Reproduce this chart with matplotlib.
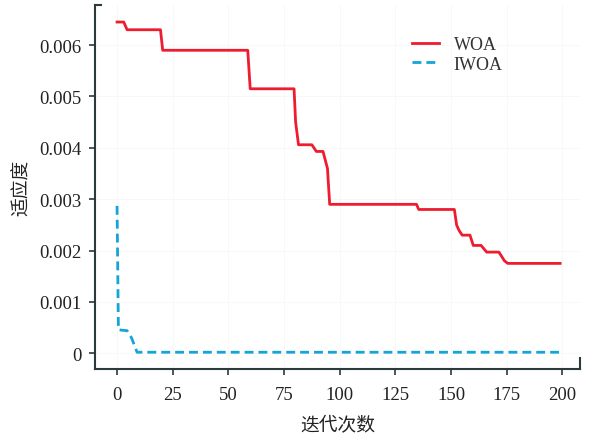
import matplotlib
matplotlib.use("Agg")
import matplotlib.pyplot as plt
from matplotlib.ticker import FuncFormatter

# data
woa_x = [0, 3, 4.5, 19.5, 20.5, 58.7, 59.8, 79.5, 80.2, 81.5, 87.5, 89.5, 92.5, 94.5, 95.5,
         134.5, 135.5, 151.5, 152.5, 153.5, 155, 158.5, 160, 163.5, 166, 171.5, 174, 175.5, 199]
woa_y = [0.00645, 0.00645, 0.0063, 0.0063, 0.0059, 0.0059, 0.00515, 0.00515, 0.0045, 0.00406,
         0.00406, 0.00393, 0.00393, 0.0036, 0.0029, 0.0029, 0.0028, 0.0028, 0.0025, 0.0024,
         0.0023, 0.0023, 0.0021, 0.0021, 0.00197, 0.00197, 0.0018, 0.00175, 0.00175]
iwoa_x = [0, 0.6, 2, 4.5, 6.5, 9, 199]
iwoa_y = [0.00287, 0.00046, 0.00045, 0.00044, 0.0003, 0.00002, 0.00002]

xticks = [0, 25, 50, 75, 100, 125, 150, 175, 200]
yticks = [0, 0.001, 0.002, 0.003, 0.004, 0.005, 0.006]

serif = ['Liberation Serif', 'DejaVu Serif']
cjk = ['Noto Sans CJK SC', 'DejaVu Sans']

fig = plt.figure(figsize=(5.92, 4.35), dpi=100)
ax = fig.add_axes([0.1605, 0.149, 0.8195, 0.837])

ax.plot(woa_x, woa_y, color='#ee1c2e', lw=2.0, label='WOA')
ax.plot(iwoa_x, iwoa_y, color='#14a5d8', lw=2.0, ls=(0, (3.2, 1.8)), label='IWOA')

ax.set_xlim(-9.9, 208)
ax.set_ylim(-0.00031, 0.00678)
ax.set_xticks(xticks)
ax.set_yticks(yticks)
ax.yaxis.set_major_formatter(FuncFormatter(lambda v, p: '0' if v == 0 else '%.3f' % v))
for lab in ax.get_xticklabels() + ax.get_yticklabels():
    lab.set_family(serif)
    lab.set_fontsize(13.5)
    lab.set_color('#222222')
ax.tick_params(direction='out', length=4, width=1.2, color='#2b3a3a')
ax.tick_params(axis='y', pad=6)
ax.tick_params(axis='x', pad=8)
ax.grid(True, color='#f7f7f7', lw=0.6)

for s in ['top', 'right']:
    ax.spines[s].set_visible(False)
for s in ['left', 'bottom']:
    ax.spines[s].set_color('#2b3a3a')
    ax.spines[s].set_linewidth(1.5)
# small end caps on the axis lines
ax.plot([0, 0.012], [1, 1], transform=ax.transAxes, color='#2b3a3a', lw=1.5, clip_on=False)
ax.plot([1, 1], [0, 0.03], transform=ax.transAxes, color='#2b3a3a', lw=1.5, clip_on=False)

ax.set_xlabel('迭代次数', family=cjk, fontsize=13.5, color='#222222', labelpad=8)
ax.set_ylabel('适应度', family=cjk, fontsize=13.5, color='#222222', labelpad=5)

leg = ax.legend(loc='upper left', bbox_to_anchor=(0.62, 0.96), frameon=False,
                prop={'family': serif, 'size': 13}, handlelength=1.5, labelspacing=0.15)
for t in leg.get_texts():
    t.set_color('#333333')

fig.savefig('out.png', dpi=100)
